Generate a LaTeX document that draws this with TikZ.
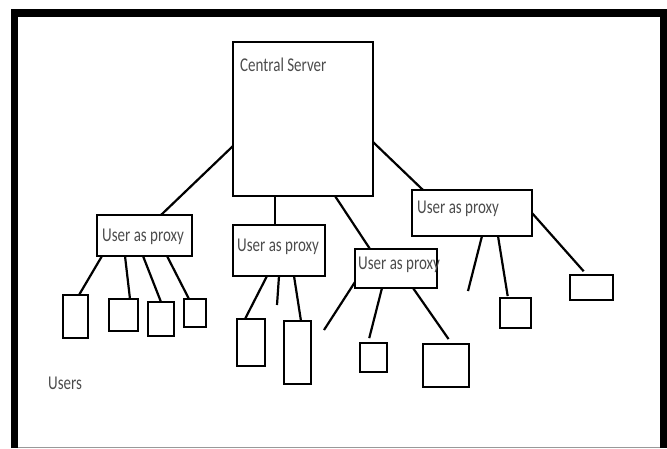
\documentclass[tikz,border=0pt]{standalone}
\usepackage{fontspec}
\setmainfont{Carlito}
\newcommand{\lbl}[1]{\scalebox{1}[1.3]{#1}}

\begin{document}
\begin{tikzpicture}[x=1pt, y=-1pt,
    box/.style={draw, line width=2.4pt, inner sep=0pt, outer sep=0pt},
    txt/.style={font=\fontsize{15}{18}\selectfont, text=black!70, inner sep=0pt, anchor=west},
    conn/.style={line width=2.2pt}]
  \useasboundingbox (0,0) rectangle (667,448);
  % outer frame
  \draw[line width=7.5pt] (14.5,448) |- (663.5,13) -- (663.5,448);
  \draw[black!40, line width=1pt] (18,447) -- (660,447);

  % server and proxies
  \node[box, minimum width=140, minimum height=154] (cs) at (303,119) {};
  \node[box, minimum width=95, minimum height=41] (px1) at (144.5,235.5) {};
  \node[box, minimum width=92, minimum height=51] (px2) at (279,250.5) {};
  \node[box, minimum width=82, minimum height=39] (px3) at (396,268.5) {};
  \node[box, minimum width=120, minimum height=46] (px4) at (472,213) {};

  % users
  \node[box, minimum width=25, minimum height=43] (u1) at (75.5,316.5) {};
  \node[box, minimum width=29, minimum height=32] (u2) at (123.5,315) {};
  \node[box, minimum width=26, minimum height=34] (u3) at (161,319) {};
  \node[box, minimum width=22, minimum height=28] (u4) at (195,313) {};
  \node[box, minimum width=28, minimum height=47] (u5) at (251,342.5) {};
  \node[box, minimum width=27, minimum height=63] (u6) at (297.5,352.5) {};
  \node[box, minimum width=27, minimum height=29] (u7) at (373.5,357.5) {};
  \node[box, minimum width=46, minimum height=43] (u8) at (446,365.5) {};
  \node[box, minimum width=31, minimum height=30] (u9) at (515.5,313) {};
  \node[box, minimum width=43, minimum height=25] (u10) at (591.5,287.5) {};

  % labels
  \node[txt] (tcs) at (240,65) {\lbl{Central Server}};
  \node[txt] (tpx1) at (102,237) {\lbl{User as proxy}};
  \node[txt] (tpx2) at (237,247) {\lbl{User as proxy}};
  \node[txt] (tpx3) at (358,265) {\lbl{User as proxy}};
  \node[txt] (tpx4) at (417,209) {\lbl{User as proxy}};
  \node[txt] (tusers) at (48,383) {\lbl{Users}};

  % loose ends
  \coordinate (d1) at (277,305);
  \coordinate (d2) at (324,330);
  \coordinate (d3) at (468,291);

  \path[conn]
    (cs.west |- 0,146) edge (161,0 |- px1.north)
    (275,0 |- cs.south) edge (275,0 |- px2.north)
    (335,0 |- cs.south) edge (370,0 |- px3.north)
    (cs.east |- 0,142) edge (423,0 |- px4.north)
    (102,0 |- px1.south) edge (79,0 |- u1.north)
    (125,0 |- px1.south) edge (130,0 |- u2.north)
    (143,0 |- px1.south) edge (u3.north)
    (167,0 |- px1.south) edge (189,0 |- u4.north)
    (267,0 |- px2.south) edge (245,0 |- u5.north)
    (279,0 |- px2.south) edge (d1)
    (294,0 |- px2.south) edge (301,0 |- u6.north)
    (px3.west |- 0,282) edge (d2)
    (382,0 |- px3.south) edge[shorten >=5pt] (368,0 |- u7.north)
    (413,0 |- px3.south) edge[shorten >=6pt] (452,0 |- u8.north)
    (482,0 |- px4.south) edge (d3)
    (498,0 |- px4.south) edge[shorten >=2pt] (508,0 |- u9.north)
    (px4.east |- 0,213) edge[shorten >=5pt] (587,0 |- u10.north);
\end{tikzpicture}
\end{document}
